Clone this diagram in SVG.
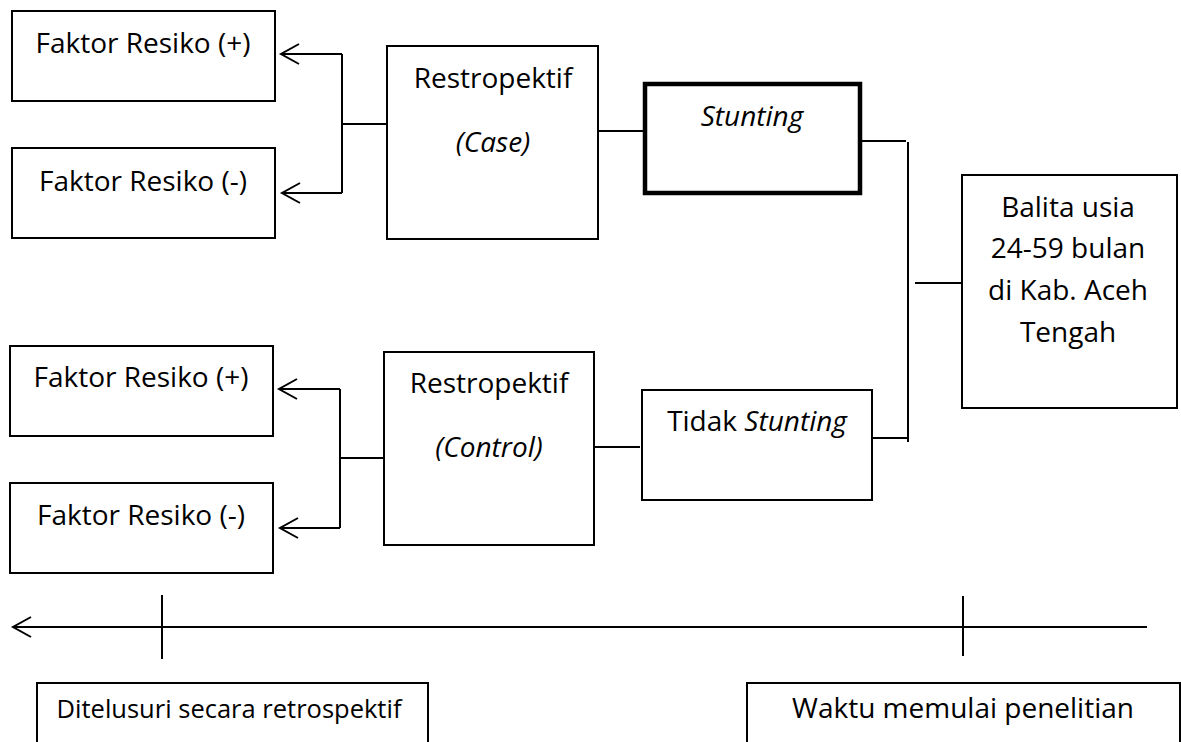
<svg xmlns="http://www.w3.org/2000/svg" width="1181" height="742" viewBox="0 0 1181 742">
  <style>
    .box { fill: #fff; stroke: #000; stroke-width: 2; }
    .thick { stroke-width: 4.5; }
    .lbl { font-family: "Open Sans", "Liberation Sans", sans-serif; font-size: 28px; fill: #000; text-anchor: middle; }
    .it { font-style: italic; }
    .wire { fill: none; stroke: #000; stroke-width: 2; }
  </style>
  <defs>
    <marker id="chev" markerUnits="userSpaceOnUse" markerWidth="24" markerHeight="24" refX="19" refY="11" orient="auto">
      <path d="M1,1 L19,11 L1,21" fill="none" stroke="#000" stroke-width="2"/>
    </marker>
  </defs>
  <rect width="1181" height="742" fill="#fff"/>

  <!-- case branch -->
  <g id="fr-plus-case"><rect class="box" x="12" y="11" width="263" height="90"/><text class="lbl" x="143" y="53">Faktor Resiko (+)</text></g>
  <g id="fr-minus-case"><rect class="box" x="12" y="148" width="263" height="90"/><text class="lbl" x="143" y="191">Faktor Resiko (-)</text></g>
  <g id="retro-case"><rect class="box" x="387" y="46" width="211" height="193"/><text class="lbl" x="493" y="88">Restropektif</text><text class="lbl it" x="493" y="152">(Case)</text></g>
  <g id="stunting"><rect class="box thick" x="645" y="84" width="215" height="109"/><text class="lbl it" x="752" y="126">Stunting</text></g>

  <!-- control branch -->
  <g id="fr-plus-control"><rect class="box" x="10" y="346" width="263" height="90"/><text class="lbl" x="141" y="387">Faktor Resiko (+)</text></g>
  <g id="fr-minus-control"><rect class="box" x="10" y="483" width="263" height="90"/><text class="lbl" x="141" y="525">Faktor Resiko (-)</text></g>
  <g id="retro-control"><rect class="box" x="384" y="352" width="210" height="193"/><text class="lbl" x="489" y="393">Restropektif</text><text class="lbl it" x="489" y="457">(Control)</text></g>
  <g id="tidak-stunting"><rect class="box" x="642" y="390" width="230" height="110"/><text class="lbl" x="757" y="431">Tidak <tspan class="it">Stunting</tspan></text></g>

  <!-- population -->
  <g id="balita"><rect class="box" x="962" y="175" width="215" height="233"/>
    <text class="lbl" x="1068" y="217">Balita usia</text>
    <text class="lbl" x="1068" y="258">24-59 bulan</text>
    <text class="lbl" x="1068" y="300">di Kab. Aceh</text>
    <text class="lbl" x="1068" y="342">Tengah</text>
  </g>

  <!-- time axis labels -->
  <g id="ditelusuri"><rect class="box" x="37" y="683" width="391" height="80"/><text class="lbl" x="229" y="718" style="font-size:25.5px">Ditelusuri secara retrospektif</text></g>
  <g id="waktu"><rect class="box" x="747" y="683" width="433" height="80"/><text class="lbl" x="963" y="718">Waktu memulai penelitian</text></g>

  <g id="connectors" class="wire">
    <path d="M388,124 H342 M342,54 V193"/>
    <path d="M342,54 H281" marker-end="url(#chev)"/>
    <path d="M342,193 H282" marker-end="url(#chev)"/>
    <path d="M598,131 H645"/>
    <path d="M860,141 H906 M908,142 V442 M915,283 H962 M873,438 H908"/>
    <path d="M384,458 H340 M340,389 V528"/>
    <path d="M340,389 H279" marker-end="url(#chev)"/>
    <path d="M340,528 H280" marker-end="url(#chev)"/>
    <path d="M594,447 H640"/>
    <path d="M1147,627 H13" marker-end="url(#chev)"/>
    <path d="M162,595 V659 M963,596 V656"/>
  </g>
</svg>
